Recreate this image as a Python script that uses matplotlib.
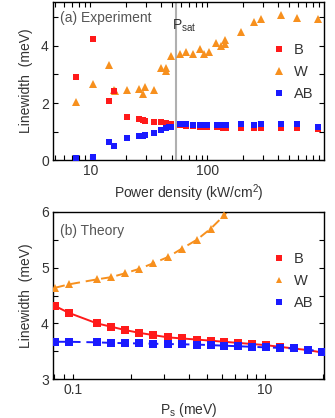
import numpy as np
import matplotlib
matplotlib.use('Agg')
import matplotlib.pyplot as plt
from matplotlib.lines import Line2D

plt.rcParams['font.family'] = ['Liberation Sans', 'DejaVu Sans']
plt.rcParams['font.size'] = 10
plt.rcParams['mathtext.fontset'] = 'custom'
plt.rcParams['mathtext.rm'] = 'Liberation Sans'

RED = '#ff1a1a'
ORANGE = '#f7901e'
BLUE = '#1a1aff'
TXT = '#333333'

# (a) experiment: power density (kW/cm^2) and linewidths (meV)
p_exp = [7.5, 10.6, 14.5, 15.9, 20.4, 26.1, 28.2, 29.5, 34.9, 40.0, 44.0, 46.9, 48.5,
         58.2, 65.5, 74.7, 86.2, 89.0, 98.4, 121, 135, 144, 192, 250, 285, 425, 578, 875]
b_exp = [2.90, 4.23, 2.06, 2.42, 1.52, 1.43, 1.40, 1.38, 1.33, 1.32, 1.30, 1.28, 1.27,
         1.22, 1.20, 1.18, 1.17, 1.16, 1.15, 1.15, 1.14, 1.14, 1.13, 1.12, 1.12, 1.11, 1.11, 1.08]
ab_exp = [0.09, 0.10, 0.65, 0.49, 0.77, 0.84, 0.84, 0.87, 0.96, 1.05, 1.11, 1.15, 1.17,
          1.25, 1.25, 1.24, 1.24, 1.24, 1.24, 1.24, 1.24, 1.24, 1.25, 1.24, 1.25, 1.25, 1.25, 1.17]
p_w = [7.5, 10.6, 14.5, 15.9, 16.2, 20.4, 26.1, 28.4, 29.5, 34.9, 40.0, 44.0, 44.5, 48.4,
       58.2, 65.5, 74.7, 86.2, 93.4, 103, 118, 130, 141, 141, 192, 250, 285, 425, 578, 875]
w_exp = [2.02, 2.67, 3.32, 2.46, 2.42, 2.46, 2.50, 2.30, 2.55, 2.45, 3.24, 3.24, 3.12, 3.63,
         3.71, 3.80, 3.71, 3.88, 3.72, 3.78, 4.09, 3.98, 4.20, 4.05, 4.49, 4.84, 4.95, 5.10, 4.97, 4.93]
p_sat = 54

# (b) theory: P_s (meV) and linewidths (meV)
p_th = [0.066, 0.091, 0.179, 0.252, 0.352, 0.494, 0.69, 0.975, 1.36, 1.95, 2.72, 3.76,
        5.25, 7.33, 10.1, 14.2, 19.8, 27.9, 38.5]
b_th = [4.31, 4.19, 4.00, 3.94, 3.88, 3.83, 3.79, 3.75, 3.73, 3.71, 3.69, 3.67,
        3.65, 3.63, 3.61, 3.58, 3.55, 3.52, 3.48]
ab_th = [3.67, 3.67, 3.66, 3.65, 3.645, 3.64, 3.635, 3.63, 3.625, 3.62, 3.61, 3.60,
         3.59, 3.58, 3.57, 3.56, 3.55, 3.53, 3.49]
w_th = [4.64, 4.70, 4.79, 4.83, 4.90, 4.98, 5.08, 5.19, 5.34, 5.50, 5.70, 5.94, 6.25]

fig = plt.figure(figsize=(3.35, 4.18), dpi=100)
ax1 = fig.add_axes([0.158, 0.617, 0.809, 0.379])
ax2 = fig.add_axes([0.158, 0.093, 0.809, 0.400])

for ax in (ax1, ax2):
    for s in ax.spines.values():
        s.set_linewidth(1.0)
    ax.tick_params(which='both', direction='in', length=3.5, width=0.8,
                   right=True, labelsize=10, colors='black', labelcolor=TXT, pad=3)

# ---- (a) experiment
ax1.axvline(p_sat, color='#b0b0b0', lw=1.5, zorder=1)
ax1.plot(p_w, w_exp, '^', color=ORANGE, ms=5.5, mew=0, zorder=3)
ax1.plot(p_exp, b_exp, 's', color=RED, ms=4, mew=0, zorder=3)
ax1.plot(p_exp, ab_exp, 's', color=BLUE, ms=4, mew=0, zorder=4)
ax1.set_xscale('log')
ax1.set_xlim(4.78, 990)
ax1.set_ylim(0, 5.55)
ax1.set_yticks([0, 2, 4])
ax1.set_yticks([1, 3, 5], minor=True)
ax1.set_xticks([10, 100])
ax1.set_xticklabels(['10', '100'])
ax1.tick_params(which='both', top=True)
ax1.set_xlabel('Power density (kW/cm$^2$)', color=TXT, labelpad=3)
ax1.set_ylabel('Linewidth  (meV)', color=TXT, labelpad=6)
ax1.text(0.025, 0.94, '(a) Experiment', transform=ax1.transAxes, color='#555555',
         ha='left', va='top', fontsize=10)
ax1.text(p_sat * 0.93, 4.72, r'P$_{\rm sat}$', color=TXT, fontsize=10, ha='left', va='center')

h1 = [Line2D([], [], ls='none', marker='s', color=RED, ms=4, mew=0),
      Line2D([], [], ls='none', marker='^', color=ORANGE, ms=5.5, mew=0),
      Line2D([], [], ls='none', marker='s', color=BLUE, ms=4, mew=0)]
ax1.legend(h1, ['B', 'W', 'AB'], frameon=False, loc='upper left',
           bbox_to_anchor=(0.76, 0.82), handlelength=1.0, handletextpad=0.5,
           labelspacing=0.55, fontsize=10.5, labelcolor=TXT)

# ---- (b) theory, x axis drawn as sqrt(P_s/10) on log scale
u_th = np.sqrt(np.array(p_th) / 10)
u_w = u_th[:len(w_th)]
ax2.plot(u_th, b_th, '-', color=RED, lw=1.4, zorder=2)
ax2.plot(u_th, ab_th, '--', color=BLUE, lw=1.4, dashes=(5, 3), zorder=2)
ax2.plot(u_w, w_th, '--', color=ORANGE, lw=1.4, dashes=(5, 3), zorder=2)
ax2.plot(u_th, b_th, 's', color=RED, ms=5.8, mew=0, zorder=3)
ax2.plot(u_th, ab_th, 's', color=BLUE, ms=5.2, mew=0, zorder=4)
ax2.plot(u_w, w_th, '^', color=ORANGE, ms=6, mew=0, zorder=3)
ax2.set_xscale('log')
ax2.set_xlim(0.079, 2.02)
ax2.set_ylim(3, 6)
ax2.set_yticks([3, 4, 5, 6])
ax2.set_yticks([3.5, 4.5, 5.5], minor=True)
ax2.set_xticks([0.1, 1])
ax2.set_xticklabels(['0.1', '10'])
ax2.xaxis.set_minor_formatter(plt.NullFormatter())
ax2.set_xlabel(r'P$_{\rm s}$ (meV)', color=TXT, labelpad=3)
ax2.set_ylabel('Linewidth  (meV)', color=TXT, labelpad=6)
ax2.text(0.025, 0.93, '(b) Theory', transform=ax2.transAxes, color='#555555',
         ha='left', va='top', fontsize=10)

h2 = [Line2D([], [], ls='none', marker='s', color=RED, ms=4, mew=0),
      Line2D([], [], ls='none', marker='^', color=ORANGE, ms=5, mew=0),
      Line2D([], [], ls='none', marker='s', color=BLUE, ms=4, mew=0)]
ax2.legend(h2, ['B', 'W', 'AB'], frameon=False, loc='upper left',
           bbox_to_anchor=(0.76, 0.84), handlelength=1.0, handletextpad=0.5,
           labelspacing=0.55, fontsize=10.5, labelcolor=TXT)

fig.savefig('out.png', dpi=100)
